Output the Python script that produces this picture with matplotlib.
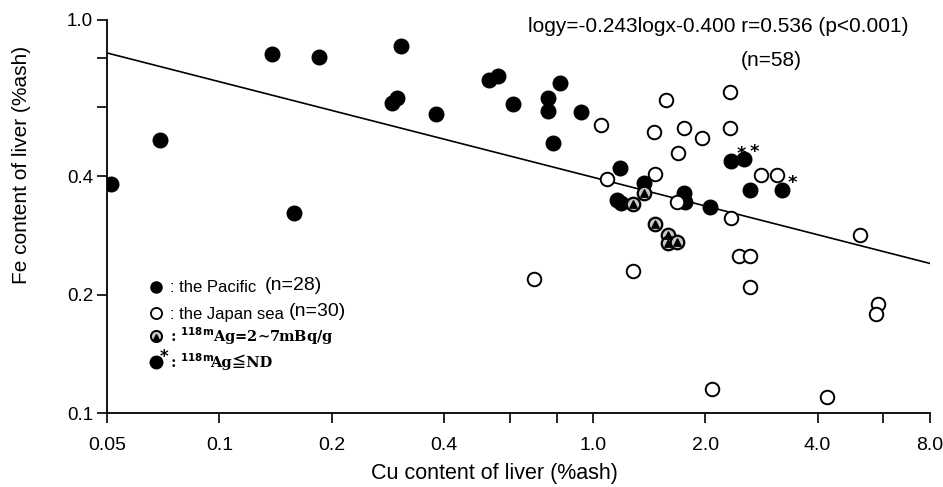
import numpy as np
import matplotlib
matplotlib.use("Agg")
import matplotlib.pyplot as plt
from matplotlib import font_manager
from matplotlib.ticker import FixedLocator, NullFormatter

plt.rcParams['font.family'] = ['Liberation Sans', 'DejaVu Sans']

# Pacific (filled), n=28
pac_cu = [0.0513, 0.0693, 0.138, 0.185, 0.158, 0.307, 0.290, 0.299, 0.381, 0.528,
          0.556, 0.612, 0.760, 0.760, 0.780, 0.815, 0.927, 1.18, 1.16, 1.19,
          1.37, 1.76, 1.77, 2.06]
pac_fe = [0.383, 0.495, 0.819, 0.805, 0.323, 0.859, 0.615, 0.633, 0.576, 0.704,
          0.720, 0.611, 0.633, 0.587, 0.486, 0.691, 0.583, 0.420, 0.348, 0.342,
          0.385, 0.363, 0.344, 0.334]
# Pacific, 118mAg <= ND (filled with asterisk)
nd_cu = [2.35, 2.54, 2.63, 3.21]
nd_fe = [0.438, 0.443, 0.369, 0.369]

# Japan sea (open), n=30
jap_cu = [0.698, 1.05, 1.09, 1.28, 1.47, 1.46, 1.57, 1.75, 1.68, 1.69,
          1.96, 2.33, 2.33, 2.35, 2.46, 2.63, 2.63, 2.82, 3.11, 5.19,
          5.80, 5.73, 2.09, 4.23]
jap_fe = [0.219, 0.541, 0.394, 0.230, 0.406, 0.519, 0.626, 0.531, 0.344, 0.459,
          0.501, 0.656, 0.531, 0.313, 0.251, 0.251, 0.209, 0.403, 0.403, 0.284,
          0.189, 0.179, 0.115, 0.110]
# Japan sea, 118mAg = 2~7 mBq/g (circle with triangle)
ag_cu = [1.37, 1.28, 1.47, 1.59, 1.59, 1.68]
ag_fe = [0.363, 0.340, 0.303, 0.284, 0.271, 0.272]

slope, intercept = -0.243, -0.400
x_ticks = [0.05, 0.1, 0.2, 0.4, 1.0, 2.0, 4.0, 8.0]
x_labels = ['0.05', '0.1', '0.2', '0.4', '1.0', '2.0', '4.0', '8.0']
x_minor = [0.6, 0.8, 6.0]
y_ticks = [0.1, 0.2, 0.4, 1.0]
y_labels = ['0.1', '0.2', '0.4', '1.0']
y_minor = [0.6, 0.8]


def pick_font(name, fallback):
    try:
        font_manager.findfont(name, fallback_to_default=False)
        return name
    except Exception:
        return fallback


narrow = pick_font('Liberation Sans Narrow', 'Liberation Sans')

W, H = 943, 487
fig = plt.figure(figsize=(W / 100, H / 100), dpi=100)
ax = fig.add_axes([107 / W, 1 - 413 / H, (930 - 107) / W, (413 - 20) / H])
ax.set_xscale('log')
ax.set_yscale('log')
ax.set_xlim(0.05, 8.0)
ax.set_ylim(0.1, 1.0)

# regression line
xl = np.array([0.05, 8.0])
ax.plot(xl, 10 ** (slope * np.log10(xl) + intercept), color='black', lw=1.2, zorder=2)

ms = 110
ax.scatter(pac_cu, pac_fe, s=ms, color='black', zorder=3)
ax.scatter(nd_cu, nd_fe, s=ms, color='black', zorder=3)
for x, y in zip(nd_cu, nd_fe):
    ax.annotate('*', xy=(x, y), xytext=(4, 5), textcoords='offset points',
                fontsize=13, fontweight='bold', ha='left', va='center', family='DejaVu Sans')
ax.scatter(jap_cu, jap_fe, s=95, facecolor='white', edgecolor='black', linewidth=1.4, zorder=3)
ax.scatter(ag_cu, ag_fe, s=95, facecolor='#c8c8c8', edgecolor='black', linewidth=1.6, zorder=4)
ax.scatter(ag_cu, ag_fe, s=28, marker='^', color='black', zorder=5)

for s in ['top', 'right']:
    ax.spines[s].set_visible(False)
for s in ['left', 'bottom']:
    ax.spines[s].set_linewidth(1.3)

ax.xaxis.set_major_locator(FixedLocator(x_ticks))
ax.set_xticklabels(x_labels, family=narrow, fontsize=14)
ax.xaxis.set_minor_locator(FixedLocator(x_minor))
ax.xaxis.set_minor_formatter(NullFormatter())
ax.yaxis.set_major_locator(FixedLocator(y_ticks))
ax.set_yticklabels(y_labels, fontsize=13.5)
ax.yaxis.set_minor_locator(FixedLocator(y_minor))
ax.yaxis.set_minor_formatter(NullFormatter())
ax.tick_params(axis='both', which='both', direction='out', length=7, width=1.2)
ax.tick_params(axis='x', pad=10)
ax.tick_params(axis='y', pad=3)

ax.set_xlabel('Cu content of liver (%ash)', fontsize=15.5, va='center')
ax.xaxis.set_label_coords((494 - 107) / 823, (413 - 473) / 393)
ax.set_ylabel('Fe content of liver (%ash)', fontsize=15, va='center')
ax.yaxis.set_label_coords((22 - 107) / 823, (413 - 165) / 393)

ax.text((528 - 107) / 823, (413 - 27) / 393, 'logy=-0.243logx-0.400 r=0.536 (p<0.001)',
        transform=ax.transAxes, fontsize=15, ha='left', va='center')
ax.text((771 - 107) / 823, (413 - 60) / 393, '(n=58)', transform=ax.transAxes,
        fontsize=15, ha='center', va='center')


# legend drawn by hand
def fx(px):
    return px / W


def fy(py):
    return 1 - py / H


serif = ['DejaVu Serif', 'Noto Sans CJK JP']
fig.lines.append(plt.Line2D([fx(156)], [fy(287)], marker='o', ms=8, color='black', transform=fig.transFigure))
fig.lines.append(plt.Line2D([fx(156)], [fy(313)], marker='o', ms=8, mfc='white', mec='black', mew=1.3,
                            color='black', transform=fig.transFigure))
fig.lines.append(plt.Line2D([fx(156)], [fy(336)], marker='o', ms=8, mfc='#c8c8c8', mec='black', mew=1.4,
                            color='black', transform=fig.transFigure))
fig.lines.append(plt.Line2D([fx(156)], [fy(337)], marker='^', ms=4, color='black', transform=fig.transFigure))
fig.lines.append(plt.Line2D([fx(156)], [fy(362)], marker='o', ms=9, color='black', transform=fig.transFigure))
fig.text(fx(160), fy(357), '*', fontsize=12, fontweight='bold', va='center', family='DejaVu Sans')

fig.text(fx(170), fy(288), ': the Pacific', fontsize=12, va='center')
fig.text(fx(265), fy(286), '(n=28)', fontsize=14, va='center')
fig.text(fx(170), fy(314), ': the Japan sea', fontsize=12, va='center')
fig.text(fx(289), fy(312), '(n=30)', fontsize=14, va='center')
fig.text(fx(170), fy(336), r': $^{\mathbf{118m}}$Ag=2∼7mBq/g', fontsize=10.5, va='center',
         family=serif, fontweight='bold')
fig.text(fx(170), fy(362), r': $^{\mathbf{118m}}$', fontsize=10.5, va='center',
         family=serif, fontweight='bold')
fig.text(fx(210), fy(362), 'Ag≦ND', fontsize=10.5, va='center',
         family=['DejaVu Serif', 'Noto Sans CJK JP'], fontweight='bold')

fig.savefig('out.png', dpi=100)
